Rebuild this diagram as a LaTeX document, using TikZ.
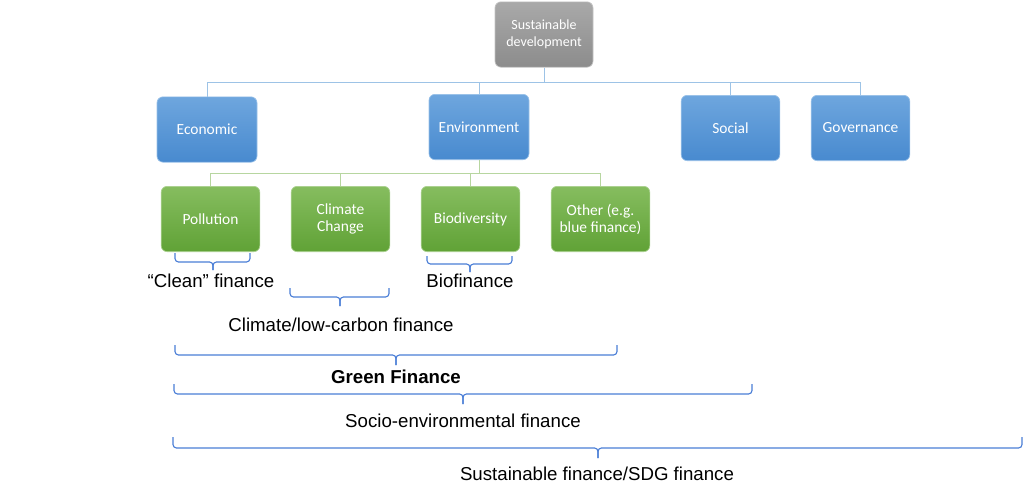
\documentclass[tikz,border=0pt]{standalone}
\usepackage{fontspec}
\setmainfont{Liberation Sans}
\newfontfamily\boxfont{Carlito}
\usetikzlibrary{positioning}
\definecolor{grayT}{HTML}{A9A9A9}
\definecolor{grayB}{HTML}{8C8C8C}
\definecolor{blueT}{HTML}{6EA6DE}
\definecolor{blueB}{HTML}{488ACF}
\definecolor{greenT}{HTML}{86BD5F}
\definecolor{greenB}{HTML}{60A236}
\definecolor{bconn}{HTML}{9DC3E6}
\definecolor{gconn}{HTML}{B7D6A0}
\definecolor{bracecol}{HTML}{4A7ED6}
\tikzset{
  box/.style={rounded corners=4.5pt, minimum width=75pt, minimum height=49pt, inner sep=1pt,
    align=center, text=white, font=\boxfont\fontsize{11.6}{12.8}\selectfont, line width=0.5pt},
  graybox/.style={box, top color=grayT, bottom color=grayB, draw=grayT!70!white,
    font=\boxfont\fontsize{10.5}{12.8}\selectfont},
  bluebox/.style={box, top color=blueT, bottom color=blueB, draw=blueT!70!white},
  greenbox/.style={box, top color=greenT, bottom color=greenB, draw=greenT!70!white},
  bline/.style={draw=bconn, line width=0.75pt},
  gline/.style={draw=gconn, line width=0.75pt},
  bracestyle/.style={draw=bracecol, line width=0.85pt, rounded corners=2.6pt},
  lbl/.style={font=\fontsize{14}{16}\selectfont, text=black, inner sep=0pt}
}
\newcommand{\finbrace}[6]{%
  \draw[bracestyle] (#1,#3) -- (#1,#4) -- (#5,#4) -- (#5,#6);
  \draw[bracestyle] (#2,#3) -- (#2,#4) -- (#5,#4) -- (#5,#6);}
\begin{document}
\begin{tikzpicture}[x=0.75pt,y=-0.75pt]
\useasboundingbox (0,0) rectangle (1024,496);
% top level
\node[graybox, minimum width=73.5pt] (sd) at (544,34.5) {Sustainable\\development};
% second level
\node[bluebox] (eco) at (207,129.5) {Economic};
\node[bluebox] (env) at (479,127) {Environment};
\node[bluebox, minimum width=74pt] (soc) at (730.5,128) {Social};
\node[bluebox, minimum width=74pt] (gov) at (860.5,128) {Governance};
% third level
\node[greenbox, minimum width=74pt] (pol) at (210.5,219) {Pollution};
\node[greenbox, minimum width=74pt] (cli) at (340.5,219) {Climate\\Change};
\node[greenbox, minimum width=74pt] (bio) at (470.5,219) {Biodiversity};
\node[greenbox, minimum width=74pt] (oth) at (600.5,219) {Other (e.g.\\blue finance)};
% connectors
\coordinate (bus1) at (544,82);
\draw[bline] (sd.south) -- (bus1);
\draw[bline] (bus1) -| (eco.north);
\draw[bline] (bus1) -| (env.north);
\draw[bline] (bus1) -| (soc.north);
\draw[bline] (bus1) -| (gov.north);
\coordinate (bus2) at (479,173);
\draw[gline] (env.south) -- (bus2);
\draw[gline] (bus2) -| (pol.north);
\draw[gline] (bus2) -| (cli.north);
\draw[gline] (bus2) -| (bio.north);
\draw[gline] (bus2) -| (oth.north);
% braces
\finbrace{175}{250}{253}{262}{213}{270}
\finbrace{290}{389}{288}{297}{340}{306}
\finbrace{427}{512}{256}{264}{470}{272}
\finbrace{175}{617}{345}{355}{396}{365}
\finbrace{174}{752}{384}{394}{463}{404}
\finbrace{173}{1022}{437}{448}{598}{458}
% labels
\node[lbl] (lclean) at (211,281) {“Clean” finance};
\node[lbl] (lbio) at (470,281) {Biofinance};
\node[lbl] (lclim) at (341,325) {Climate/low-carbon finance};
\node[lbl, font=\bfseries\fontsize{14}{16}\selectfont] (lgreen) at (396,377) {Green Finance};
\node[lbl] (lsocio) at (463,421) {Socio-environmental finance};
\node[lbl] (lsust) at (597,474) {Sustainable finance/SDG finance};
\end{tikzpicture}
\end{document}
